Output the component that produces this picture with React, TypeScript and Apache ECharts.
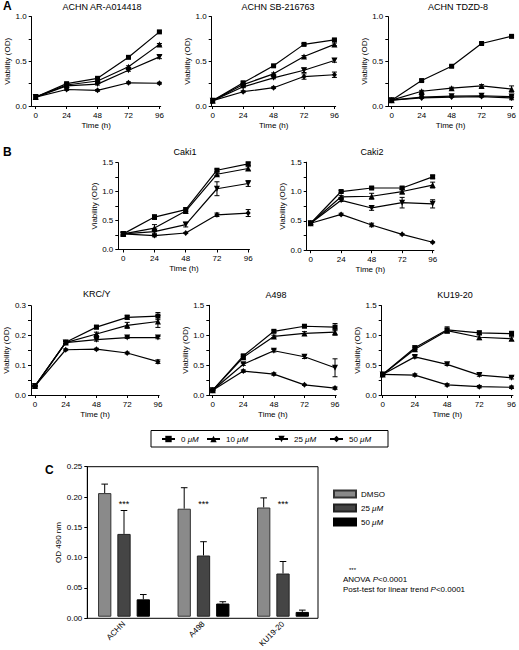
import React, { useEffect, useRef } from 'react';
import * as echarts from 'echarts';

const FONT = '"Liberation Sans", Arial, Helvetica, sans-serif';

const hours = [0, 24, 48, 72, 96];
const doseNames = ['0 μM', '10 μM', '25 μM', '50 μM'];

// rows: 0, 10, 25, 50 μM
const achnAR = [
  [0.10, 0.25, 0.31, 0.545, 0.83],
  [0.10, 0.235, 0.28, 0.44, 0.69],
  [0.10, 0.225, 0.245, 0.40, 0.55],
  [0.10, 0.185, 0.175, 0.26, 0.255],
];
const achnARErr = [
  [0, 0.01, 0.01, 0.01, 0.01],
  [0, 0.01, 0.01, 0.01, 0.01],
  [0, 0.01, 0.01, 0.01, 0.02],
  [0, 0.01, 0.01, 0.01, 0.01],
];
const achnSB = [
  [0.06, 0.26, 0.45, 0.69, 0.74],
  [0.06, 0.24, 0.36, 0.555, 0.69],
  [0.06, 0.215, 0.315, 0.40, 0.51],
  [0.06, 0.16, 0.205, 0.33, 0.35],
];
const achnSBErr = [
  [0, 0.01, 0.01, 0.01, 0.01],
  [0, 0.01, 0.01, 0.01, 0.015],
  [0, 0.01, 0.01, 0.025, 0.02],
  [0, 0.01, 0.01, 0.03, 0.03],
];
const achnTDZD = [
  [0.065, 0.285, 0.445, 0.70, 0.78],
  [0.065, 0.165, 0.20, 0.225, 0.19],
  [0.065, 0.10, 0.11, 0.115, 0.105],
  [0.065, 0.09, 0.10, 0.105, 0.09],
];
const achnTDZDErr = [
  [0, 0.01, 0.01, 0.01, 0.01],
  [0, 0.01, 0.01, 0.015, 0.035],
  [0, 0.005, 0.005, 0.005, 0.01],
  [0, 0.005, 0.005, 0.005, 0.02],
];
const caki1 = [
  [0.27, 0.56, 0.69, 1.37, 1.48],
  [0.27, 0.37, 0.665, 1.30, 1.40],
  [0.27, 0.31, 0.43, 1.05, 1.14],
  [0.27, 0.24, 0.285, 0.60, 0.63],
];
const caki1Err = [
  [0.02, 0.04, 0.03, 0.02, 0.03],
  [0.02, 0.06, 0.03, 0.02, 0.03],
  [0.02, 0.03, 0.04, 0.12, 0.05],
  [0.02, 0.02, 0.01, 0.03, 0.06],
];
const caki2 = [
  [0.46, 1.00, 1.06, 1.06, 1.25],
  [0.46, 0.91, 0.92, 1.00, 1.11],
  [0.46, 0.85, 0.72, 0.81, 0.79],
  [0.46, 0.61, 0.43, 0.27, 0.135],
];
const caki2Err = [
  [0.02, 0.02, 0.02, 0.02, 0.03],
  [0.02, 0.02, 0.05, 0.04, 0.05],
  [0.02, 0.02, 0.04, 0.09, 0.07],
  [0.02, 0.02, 0.03, 0.01, 0.01],
];
const krcY = [
  [0.03, 0.177, 0.228, 0.261, 0.265],
  [0.03, 0.176, 0.205, 0.234, 0.247],
  [0.03, 0.176, 0.186, 0.193, 0.193],
  [0.03, 0.152, 0.154, 0.141, 0.112],
];
const krcYErr = [
  [0.002, 0.004, 0.006, 0.007, 0.012],
  [0.002, 0.004, 0.006, 0.01, 0.02],
  [0.002, 0.004, 0.005, 0.003, 0.004],
  [0.002, 0.003, 0.003, 0.003, 0.006],
];
const a498 = [
  [0.08, 0.655, 1.065, 1.15, 1.135],
  [0.08, 0.63, 0.98, 1.03, 1.05],
  [0.08, 0.515, 0.74, 0.64, 0.455],
  [0.08, 0.40, 0.35, 0.17, 0.115],
];
const a498Err = [
  [0.01, 0.02, 0.02, 0.02, 0.06],
  [0.01, 0.02, 0.02, 0.03, 0.05],
  [0.01, 0.02, 0.02, 0.03, 0.15],
  [0.01, 0.02, 0.02, 0.01, 0.02],
];
const ku1920 = [
  [0.345, 0.795, 1.095, 1.045, 1.03],
  [0.345, 0.77, 1.08, 0.97, 0.945],
  [0.345, 0.64, 0.515, 0.335, 0.29],
  [0.345, 0.335, 0.17, 0.14, 0.13],
];
const ku1920Err = [
  [0.02, 0.03, 0.05, 0.03, 0.04],
  [0.02, 0.03, 0.03, 0.04, 0.03],
  [0.02, 0.02, 0.02, 0.02, 0.02],
  [0.02, 0.02, 0.02, 0.02, 0.02],
];

// Panel C
const cellLines = ['ACHN', 'A498', 'KU19-20'];
const barLabels = ['DMSO', '25 μM', '50 μM'];
const odDMSO = [0.206, 0.180, 0.182];
const odDMSOErr = [0.015, 0.035, 0.016];
const od25 = [0.138, 0.102, 0.072];
const od25Err = [0.039, 0.023, 0.020];
const od50 = [0.029, 0.022, 0.008];
const od50Err = [0.008, 0.003, 0.003];
const starLevel = 0.188;

const panels = [
  { title: 'ACHN AR-A014418', values: achnAR, errors: achnARErr, left: 31.7, top: 16.7, width: 129, height: 89.3, xMin: -3.1, yMax: 1.0, yStep: 0.25, labelStep: 0.5, tx: 102, ty: 7 },
  { title: 'ACHN SB-216763', values: achnSB, errors: achnSBErr, left: 211.7, top: 16.7, width: 124, height: 89.3, xMin: -0.8, yMax: 1.0, yStep: 0.25, labelStep: 0.5, tx: 278, ty: 7 },
  { title: 'ACHN TDZD-8', values: achnTDZD, errors: achnTDZDErr, left: 388.3, top: 16.7, width: 124.7, height: 89.3, xMin: -2.7, yMax: 1.0, yStep: 0.25, labelStep: 0.5, tx: 458, ty: 7 },
  { title: 'Caki1', values: caki1, errors: caki1Err, left: 118.3, top: 162.7, width: 131.2, height: 86.8, xMin: -3.8, yMax: 1.5, yStep: 0.25, labelStep: 0.5, tx: 185, ty: 152 },
  { title: 'Caki2', values: caki2, errors: caki2Err, left: 306.7, top: 162.2, width: 127.2, height: 88, xMin: -3.1, yMax: 1.5, yStep: 0.25, labelStep: 0.5, tx: 372, ty: 152 },
  { title: 'KRC/Y', values: krcY, errors: krcYErr, left: 31, top: 305.7, width: 128.2, height: 89.3, xMin: -3.1, yMax: 0.3, yStep: 0.05, labelStep: 0.1, tx: 96.7, ty: 293.5 },
  { title: 'A498', values: a498, errors: a498Err, left: 209.3, top: 305.3, width: 127, height: 89.7, xMin: -2.7, yMax: 1.5, yStep: 0.25, labelStep: 0.5, tx: 276, ty: 295 },
  { title: 'KU19-20', values: ku1920, errors: ku1920Err, left: 381.7, top: 305.7, width: 132.3, height: 89.3, xMin: -0.7, yMax: 1.5, yStep: 0.25, labelStep: 0.5, tx: 455, ty: 295 },
];

const symbols = ['rect', 'triangle', 'path://M0,0L10,0L5,9Z', 'diamond'];
const symbolSizes: any[] = [5, 6, 6, [5, 6]];

const legendX = [161, 206, 274, 329];

const BAR_W = 13.3;
const BAR_GAP = 6;

const uFmt = (name: string) => name.replace(/^C /, '').replace('μM', '{u|μM}');

function errRender(upOnly: boolean, capHalf: number, offsets?: number[]) {
  return (params: any, api: any) => {
    const x = api.value(0);
    const y = api.value(1);
    const e = api.value(2);
    const top = api.coord([x, y + e]);
    const bot = upOnly ? api.coord([x, y]) : api.coord([x, y - e]);
    const style = { stroke: '#000', lineWidth: 1, fill: 'none' };
    const off = offsets ? offsets[api.value(3)] : 0;
    const cx = top[0] + off;
    const children: any[] = [
      { type: 'line', shape: { x1: cx, y1: top[1], x2: cx, y2: bot[1] }, style },
      { type: 'line', shape: { x1: cx - capHalf, y1: top[1], x2: cx + capHalf, y2: top[1] }, style },
    ];
    if (!upOnly) {
      children.push({ type: 'line', shape: { x1: cx - capHalf, y1: bot[1], x2: cx + capHalf, y2: bot[1] }, style });
    }
    return { type: 'group', children };
  };
}

function isMult(v: number, step: number) {
  return Math.abs(v / step - Math.round(v / step)) < 1e-6;
}

function buildOption() {
  const grid: any[] = [];
  const xAxis: any[] = [];
  const yAxis: any[] = [];
  const series: any[] = [];
  const graphic: any[] = [];

  const axisLineStyle = { color: '#000', width: 1 };
  const tickLabel = { color: '#000', fontSize: 8, fontFamily: FONT };

  panels.forEach((p, i) => {
    grid.push({ left: p.left, top: p.top, width: p.width, height: p.height, containLabel: false });
    xAxis.push({
      type: 'value', gridIndex: i, min: p.xMin, max: 97,
      splitLine: { show: false },
      axisLine: { show: true, onZero: false, lineStyle: axisLineStyle },
      axisTick: { show: true, length: 3, lineStyle: axisLineStyle, customValues: hours },
      axisLabel: { ...tickLabel, margin: 5, customValues: hours },
      name: 'Time (h)', nameLocation: 'middle', nameGap: 15,
      nameTextStyle: { fontSize: 8, fontFamily: FONT, color: '#000' },
    });
    yAxis.push({
      type: 'value', gridIndex: i, min: 0, max: p.yMax, interval: p.yStep,
      splitLine: { show: false },
      axisLine: { show: true, onZero: false, lineStyle: axisLineStyle },
      axisTick: { show: true, length: 3, lineStyle: axisLineStyle },
      axisLabel: { ...tickLabel, margin: 5, formatter: (v: number) => (isMult(v, p.labelStep) ? v.toFixed(1) : '') },
      name: 'Viability (OD)', nameLocation: 'middle', nameGap: 19,
      nameTextStyle: { fontSize: 8, fontFamily: FONT, color: '#000' },
    });
    const errData: any[] = [];
    p.values.forEach((row, d) => {
      series.push({
        type: 'line', name: doseNames[d], xAxisIndex: i, yAxisIndex: i,
        data: row.map((v, k) => [hours[k], v]),
        symbol: symbols[d], symbolSize: symbolSizes[d],
        itemStyle: { color: '#000' },
        lineStyle: { color: '#000', width: 1.2 },
        z: 3, clip: false, silent: true,
      });
      p.errors[d].forEach((e, k) => {
        if (e > 0) errData.push([hours[k], row[k], e]);
      });
    });
    series.push({
      type: 'custom', xAxisIndex: i, yAxisIndex: i, data: errData, z: 2, silent: true,
      renderItem: errRender(false, 2.5),
    });
    graphic.push({
      type: 'text', x: p.tx, y: p.ty,
      style: { text: p.title, fontSize: 9, fontFamily: FONT, fill: '#000', textAlign: 'center', textVerticalAlign: 'middle' },
    });
  });

  // Panel C frame grid (index 8)
  const cTop = 466.7;
  const cHeight = 151.6;
  grid.push({ left: 87.3, top: cTop, width: 230.7, height: cHeight, show: true, borderColor: '#000', borderWidth: 1, backgroundColor: 'transparent' });
  xAxis.push({ type: 'value', gridIndex: 8, min: 0, max: 1, show: false });
  yAxis.push({
    type: 'value', gridIndex: 8, min: 0, max: 0.25, interval: 0.05,
    splitLine: { show: false },
    axisLine: { show: true, onZero: false, lineStyle: axisLineStyle },
    axisTick: { show: true, length: 3, lineStyle: axisLineStyle },
    axisLabel: { ...tickLabel, margin: 5, formatter: (v: number) => v.toFixed(2) },
    name: 'OD 490 nm', nameLocation: 'middle', nameGap: 24,
    nameTextStyle: { fontSize: 8, fontFamily: FONT, color: '#000' },
  });
  // bar grid (index 9)
  grid.push({ left: 84.25, top: cTop, width: 238.5, height: cHeight });
  xAxis.push({
    type: 'category', gridIndex: 9, data: cellLines,
    axisLine: { show: false }, axisTick: { show: false },
    axisLabel: { ...tickLabel, rotate: 45, margin: 6, interval: 0 },
  });
  yAxis.push({ type: 'value', gridIndex: 9, min: 0, max: 0.25, show: false, splitLine: { show: false } });

  const barVals = [odDMSO, od25, od50];
  const barErrs = [odDMSOErr, od25Err, od50Err];
  const barColors = ['#8a8a8a', '#454545', '#000'];
  const barBorders = ['#333', '#222', '#000'];
  barVals.forEach((vals, s) => {
    series.push({
      type: 'bar', name: 'C ' + barLabels[s], xAxisIndex: 9, yAxisIndex: 9,
      data: vals, barWidth: BAR_W, barGap: (BAR_GAP / BAR_W * 100).toFixed(1) + '%',
      itemStyle: { color: barColors[s], borderColor: barBorders[s], borderWidth: 1 },
      silent: true, z: 2,
    });
  });
  const step = BAR_W + BAR_GAP;
  const barErrData: any[] = [];
  barVals.forEach((vals, s) => vals.forEach((v, c) => barErrData.push([c, v, barErrs[s][c], s])));
  series.push({
    type: 'custom', xAxisIndex: 9, yAxisIndex: 9, data: barErrData, z: 1, silent: true,
    renderItem: errRender(true, 3.3, [-step, 0, step]),
  });
  series.push({
    type: 'custom', xAxisIndex: 9, yAxisIndex: 9, data: cellLines.map((_, c) => [c, starLevel]), z: 4, silent: true,
    renderItem: (params: any, api: any) => {
      const pt = api.coord([api.value(0), api.value(1)]);
      return {
        type: 'text', x: pt[0], y: pt[1],
        style: { text: '***', fontSize: 9, fontFamily: FONT, fill: '#000', textAlign: 'center', textVerticalAlign: 'middle' },
      };
    },
  });

  // Legends
  const richU = { u: { fontStyle: 'italic', fontSize: 8, fontFamily: FONT, color: '#000' } };
  const legend: any[] = doseNames.map((n, d) => ({
    data: [n], left: legendX[d], top: 435, padding: 0, itemWidth: 13, itemHeight: 8, itemGap: 0,
    selectedMode: false, formatter: uFmt,
    textStyle: { fontSize: 8, fontFamily: FONT, color: '#000', padding: [0, 0, 0, 1], rich: richU },
  }));
  legend.push({
    data: barLabels.map((b) => ({ name: 'C ' + b, icon: 'rect' })), orient: 'vertical', left: 333, top: 489, padding: 0,
    itemWidth: 22, itemHeight: 7, itemGap: 4, selectedMode: false, formatter: uFmt,
    textStyle: { fontSize: 8, fontFamily: FONT, color: '#000', lineHeight: 10, rich: richU },
  });

  graphic.push(
    { type: 'rect', shape: { x: 151, y: 430.5, width: 237, height: 16.5 }, style: { fill: 'none', stroke: '#000', lineWidth: 1 } },
    { type: 'text', x: 3, y: 0, style: { text: 'A', fontSize: 12, fontWeight: 'bold', fontFamily: FONT, fill: '#000', textVerticalAlign: 'top' } },
    { type: 'text', x: 3, y: 146, style: { text: 'B', fontSize: 12, fontWeight: 'bold', fontFamily: FONT, fill: '#000', textVerticalAlign: 'top' } },
    { type: 'text', x: 45, y: 464, style: { text: 'C', fontSize: 12, fontWeight: 'bold', fontFamily: FONT, fill: '#000', textVerticalAlign: 'top' } },
    { type: 'text', x: 349, y: 570, style: { text: '***', fontSize: 6, fontFamily: FONT, fill: '#000', textVerticalAlign: 'middle' } },
    {
      type: 'text', x: 343, y: 579.5,
      style: { text: 'ANOVA {i|P}<0.0001', fontSize: 8, fontFamily: FONT, fill: '#000', textVerticalAlign: 'middle', rich: { i: { fontStyle: 'italic', fontSize: 8, fontFamily: FONT } } },
    },
    {
      type: 'text', x: 343, y: 589.5,
      style: { text: 'Post-test for linear trend {i|P}<0.0001', fontSize: 8, fontFamily: FONT, fill: '#000', textVerticalAlign: 'middle', rich: { i: { fontStyle: 'italic', fontSize: 8, fontFamily: FONT } } },
    },
  );

  return {
    animation: false,
    backgroundColor: '#fff',
    textStyle: { fontFamily: FONT, color: '#000' },
    grid, xAxis, yAxis, series, legend, graphic,
  };
}

export default function App() {
  const ref = useRef<HTMLDivElement>(null);
  useEffect(() => {
    if (!ref.current) return;
    const chart = echarts.init(ref.current, null, { renderer: 'svg' });
    chart.setOption(buildOption() as any);
    return () => chart.dispose();
  }, []);
  return <div ref={ref} style={{ position: 'absolute', left: 0, top: 0, width: 519, height: 650 }} />;
}
